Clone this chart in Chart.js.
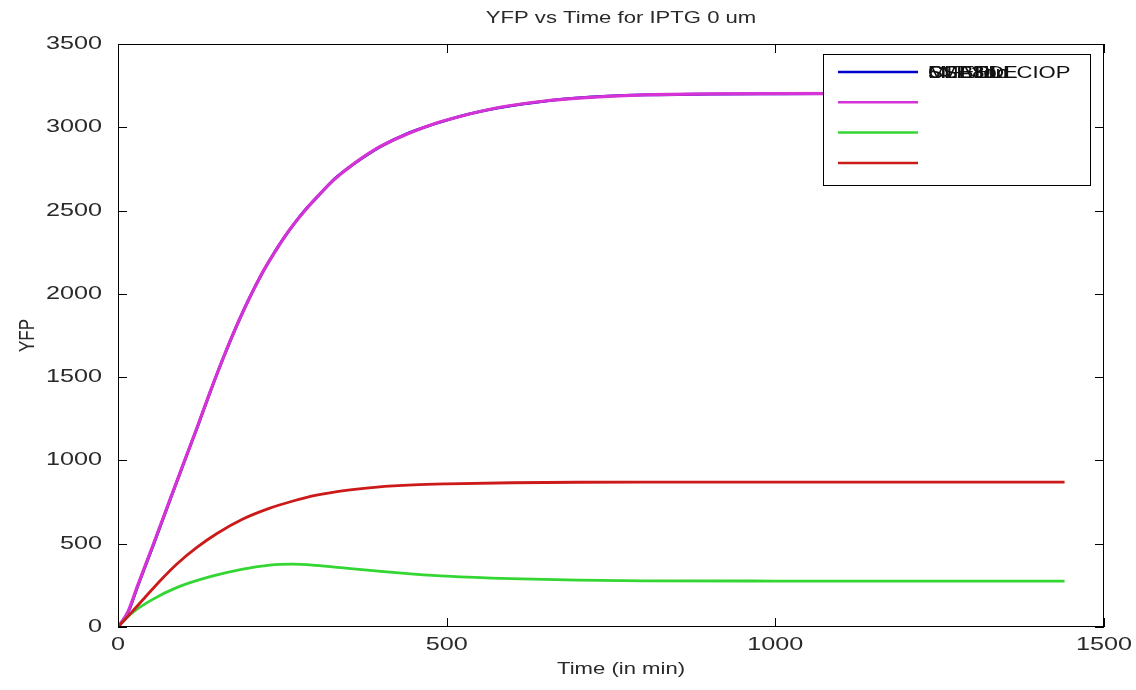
<!DOCTYPE html>
<html>
<head>
<meta charset="utf-8">
<script src="https://cdn.jsdelivr.net/npm/chart.js@4/dist/chart.umd.min.js"></script>
<style>
  html, body { margin: 0; padding: 0; background: #fff; }
  #wrap { width: 1136px; height: 690px; }
</style>
</head>
<body>
<div id="wrap"><canvas id="yfpChart" width="1136" height="690"></canvas></div>
<script>
// values (time in min)
const magentaTimes = [0, 15, 30, 55, 80, 100, 120, 140, 160, 180, 200, 220, 240, 260, 280, 300, 330, 360, 399, 440, 480, 520, 581, 650, 700, 800, 900, 1000, 1200, 1440];
const magentaVals  = [0, 90, 250, 510, 775, 985, 1195, 1410, 1615, 1805, 1975, 2130, 2260, 2380, 2480, 2570, 2690, 2785, 2885, 2960, 3020, 3065, 3120, 3158, 3175, 3195, 3200, 3202, 3204, 3205];
const blueTimes = [0, 15, 30, 55, 80, 100, 120, 140, 160, 180, 200, 220, 240, 260, 280, 300, 330, 360, 399, 440, 480, 520, 581, 650, 700, 800, 900, 1000, 1200, 1440];
const blueVals  = [0, 85, 245, 505, 772, 983, 1192, 1408, 1613, 1803, 1976, 2128, 2262, 2378, 2482, 2568, 2692, 2783, 2883, 2962, 3018, 3066, 3118, 3157, 3176, 3194, 3199, 3201, 3204, 3205];
const greenTimes = [0, 20, 50, 90, 143, 190, 231, 265, 300, 350, 400, 450, 500, 597, 700, 800, 1000, 1200, 1440];
const greenVals  = [0, 80, 160, 238, 305, 348, 372, 377, 370, 352, 334, 318, 305, 290, 281, 277, 276, 275, 275];
const redTimes = [0, 20, 45, 67, 90, 120, 150, 190, 230, 265, 300, 350, 394, 450, 500, 600, 700, 800, 1000, 1200, 1440];
const redVals  = [0, 85, 195, 290, 380, 478, 560, 648, 712, 755, 790, 822, 840, 853, 859, 866, 869, 870, 870, 870, 870];

const seriesLabels = ['MFEDLE', 'SSA8bc', 'CLE3dn', '5MBEDLCIOP'];
const seriesColors = ['#0000c8', '#d633d6', '#33d633', '#cc1a1a'];

const xTicks = [0, 500, 1000, 1500];
const yTicks = [0, 500, 1000, 1500, 2000, 2500, 3000, 3500];

const titleText = 'YFP vs Time for IPTG 0 um';
const xTitle = 'Time (in min)';
const yTitle = 'YFP';

const FAMILY = 'Arial, "Liberation Sans", sans-serif';

function toPoints(ts, vs) {
  return ts.map((t, i) => ({ x: t, y: vs[i] }));
}

const allSeries = [
  toPoints(blueTimes, blueVals),
  toPoints(magentaTimes, magentaVals),
  toPoints(greenTimes, greenVals),
  toPoints(redTimes, redVals),
];

// the original image is wider than it should be, so text is stretched
function wideText(ctx, text, x, y, align, size, stretch) {
  ctx.save();
  ctx.font = size + 'px ' + FAMILY;
  ctx.translate(x, y);
  ctx.scale(stretch, 1);
  ctx.textAlign = align;
  ctx.textBaseline = 'middle';
  ctx.fillText(text, 0, 0);
  ctx.restore();
}

// matlab style box, inward ticks, titles and the overlapping legend
const matlabDecor = {
  id: 'matlabDecor',
  afterDatasetsDraw(chart) {
    const ctx = chart.ctx;
    const a = chart.chartArea;
    const xs = chart.scales.x;
    const ys = chart.scales.y;
    ctx.save();
    ctx.strokeStyle = '#000';
    ctx.lineWidth = 1;
    ctx.strokeRect(a.left + 0.5, a.top + 0.5, a.right - a.left - 1, a.bottom - a.top - 1);
    ctx.beginPath();
    xTicks.forEach(v => {
      const px = Math.round(xs.getPixelForValue(v)) + 0.5;
      ctx.moveTo(px, a.bottom); ctx.lineTo(px, a.bottom - 9);
      ctx.moveTo(px, a.top); ctx.lineTo(px, a.top + 9);
    });
    yTicks.forEach(v => {
      const py = Math.round(ys.getPixelForValue(v)) + 0.5;
      ctx.moveTo(a.left, py); ctx.lineTo(a.left + 9, py);
      ctx.moveTo(a.right, py); ctx.lineTo(a.right - 9, py);
    });
    ctx.stroke();

    ctx.fillStyle = '#2a2a2a';
    xTicks.forEach(v => wideText(ctx, String(v), xs.getPixelForValue(v), 645, 'center', 18, 1.4));
    yTicks.forEach(v => wideText(ctx, String(v), 102, ys.getPixelForValue(v), 'right', 18, 1.4));
    wideText(ctx, titleText, (a.left + a.right) / 2 + 10, 18, 'center', 17, 1.3);
    wideText(ctx, xTitle, (a.left + a.right) / 2 + 10, 669, 'center', 17, 1.3);
    ctx.save();
    ctx.font = '17px ' + FAMILY;
    ctx.translate(28, (a.top + a.bottom) / 2);
    ctx.rotate(-Math.PI / 2);
    ctx.scale(1, 1.3);
    ctx.textAlign = 'center';
    ctx.textBaseline = 'middle';
    ctx.fillText(yTitle, 0, 0);
    ctx.restore();

    // legend box
    const lx = 823, ly = 54, lw = 267, lh = 131;
    ctx.fillStyle = '#fff';
    ctx.fillRect(lx, ly, lw, lh);
    ctx.strokeStyle = '#000';
    ctx.strokeRect(lx + 0.5, ly + 0.5, lw, lh);
    chart.data.datasets.forEach((ds, i) => {
      const y = 72 + i * 30.3;
      ctx.strokeStyle = ds.borderColor;
      ctx.lineWidth = 2.5;
      ctx.beginPath();
      ctx.moveTo(838, y); ctx.lineTo(918, y);
      ctx.stroke();
    });
    // all labels land on the first row, as in the original
    ctx.fillStyle = '#111';
    chart.data.datasets.forEach(ds => wideText(ctx, ds.label, 928, 73, 'left', 17, 1.3));
    ctx.restore();
  }
};

new Chart(document.getElementById('yfpChart'), {
  type: 'line',
  data: {
    datasets: allSeries.map((pts, i) => ({
      label: seriesLabels[i],
      data: pts,
      order: 3 - i, // later series on top, like matlab
      borderColor: seriesColors[i],
      backgroundColor: seriesColors[i],
      borderWidth: i === 1 ? 3.2 : 2.8,
      pointRadius: 0,
      cubicInterpolationMode: 'monotone',
      fill: false,
    })),
  },
  options: {
    responsive: false,
    animation: false,
    layout: { padding: { top: 44, right: 32, left: 0, bottom: 0 } },
    plugins: { legend: { display: false }, tooltip: { enabled: false }, title: { display: false } },
    scales: {
      x: {
        type: 'linear', min: 0, max: 1500,
        afterBuildTicks: s => { s.ticks = xTicks.map(v => ({ value: v })); },
        grid: { display: false },
        border: { display: false },
        ticks: { display: false },
        afterFit: s => { s.height = 63; },
      },
      y: {
        type: 'linear', min: 0, max: 3500,
        afterBuildTicks: s => { s.ticks = yTicks.map(v => ({ value: v })); },
        grid: { display: false },
        border: { display: false },
        ticks: { display: false },
        afterFit: s => { s.width = 118; },
      },
    },
  },
  plugins: [matlabDecor],
});
</script>
</body>
</html>
